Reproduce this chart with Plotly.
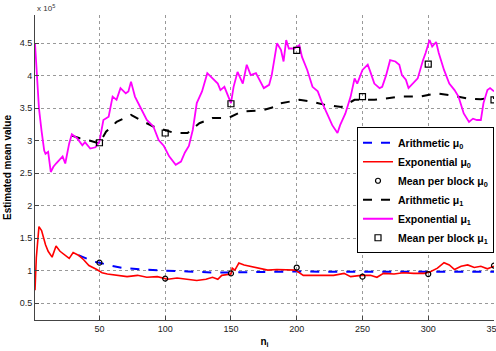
import plotly.graph_objects as go

# Running estimates of the two class means (values in units of 1e5)
exp_mu0_n = [1, 2, 4, 6, 9, 11, 14, 17, 20, 24, 27, 30, 34, 38, 42, 48, 52, 56, 63, 71,
             79, 86, 94, 102, 109, 117, 124, 131, 136, 140, 143, 150, 151, 153, 156, 160, 170, 178, 185, 193,
             199, 205, 213, 221, 228, 236, 241, 249, 256, 261, 266, 274, 281, 289, 297, 302, 307, 312, 316, 320,
             325, 330, 335, 340, 345, 350]
exp_mu0 = [0.70, 1.20, 1.68, 1.62, 1.40, 1.30, 1.21, 1.38, 1.30, 1.24, 1.19, 1.28, 1.24, 1.17, 1.08, 1.02, 0.97, 0.95, 0.93, 0.91,
           0.93, 0.90, 0.91, 0.87, 0.89, 0.87, 0.85, 0.87, 0.90, 0.87, 0.93, 0.95, 1.04, 1.01, 1.12, 1.09, 1.05, 1.01, 1.02, 1.01,
           1.01, 0.93, 0.93, 0.94, 0.93, 0.96, 0.91, 0.93, 0.93, 0.90, 0.96, 0.95, 0.97, 0.96, 0.96, 0.99, 1.04, 1.125, 1.09, 1.02,
           1.07, 1.09, 1.05, 1.07, 1.03, 1.07]

arith_mu0_n = [34, 38, 46, 50, 58, 69, 81, 99, 117, 135, 150, 175, 200, 226, 251, 277, 302, 327, 350]
arith_mu0 = [1.24, 1.21, 1.14, 1.125, 1.08, 1.04, 1.02, 1.0, 0.99, 0.975, 0.975, 0.985, 0.99, 0.985, 0.985,
             0.985, 0.985, 0.985, 0.985]

exp_mu1_n = [1, 2, 4, 6, 8, 9, 11, 13, 15, 17, 19, 22, 24, 27, 29, 33, 37, 39, 43, 47,
             50, 53, 57, 60, 63, 66, 70, 72, 74, 77, 81, 86, 91, 95, 99, 103, 108, 112, 115, 118,
             121, 124, 128, 132, 136, 140, 142, 145, 150, 152, 155, 159, 162, 165, 169, 171, 175, 179, 181, 185,
             188, 190, 192, 194, 198, 202, 204, 208, 212, 216, 219, 223, 227, 231, 233, 237, 241, 244, 246, 250,
             254, 256, 259, 263, 265, 268, 271, 275, 278, 280, 283, 285, 288, 292, 296, 298, 301, 303, 306, 308,
             312, 316, 320, 323, 327, 331, 334, 337, 340, 342, 345, 347, 350]
exp_mu1 = [4.5, 4.2, 3.5, 3.15, 2.85, 2.8, 2.83, 2.52, 2.6, 2.65, 2.7, 2.76, 2.65, 2.96, 3.1, 3.04, 2.93, 2.98, 2.88, 2.9,
           2.99, 3.32, 3.37, 3.68, 3.63, 3.81, 3.73, 3.76, 3.91, 3.68, 3.52, 3.32, 3.22, 3.01, 2.92, 2.76, 2.63, 2.68, 2.82, 2.92,
           3.17, 3.58, 3.76, 4.04, 3.96, 3.88, 3.78, 3.83, 3.58, 3.83, 4.06, 3.88, 4.17, 4.01, 4.04, 3.96, 3.81, 3.86, 4.01, 4.5,
           4.40, 4.22, 4.55, 4.42, 4.42, 4.47, 4.29, 4.09, 3.83, 3.76, 3.60, 3.42, 3.24, 3.12, 3.24, 3.42, 3.68, 3.96, 3.88, 4.09,
           4.17, 4.06, 3.88, 3.81, 3.83, 4.01, 4.24, 4.22, 4.17, 4.01, 3.94, 3.81, 3.88, 3.96, 4.24, 4.35, 4.55, 4.45, 4.52, 4.35,
           4.09, 3.88, 3.78, 3.68, 3.42, 3.29, 3.34, 3.32, 3.32, 3.58, 3.78, 3.81, 3.76]

arith_mu1_n = [29, 35, 43, 50, 55, 63, 74, 81, 91, 99, 107, 117, 126, 136, 148, 158, 174, 183, 186, 202,
               212, 222, 234, 244, 259, 279, 294, 306, 317, 330, 340, 350]
arith_mu1 = [3.08, 3.04, 3.0, 2.96, 3.14, 3.29, 3.40, 3.32, 3.22, 3.17, 3.12, 3.12, 3.27, 3.35, 3.35, 3.45, 3.47, 3.52, 3.57, 3.63,
             3.60, 3.55, 3.52, 3.63, 3.63, 3.68, 3.68, 3.73, 3.70, 3.65, 3.64, 3.66]

block_n = [50, 100, 150, 200, 250, 300, 350]
block_mu0 = [1.125, 0.88, 0.96, 1.05, 0.91, 0.95, 1.08]
block_mu1 = [2.97, 3.12, 3.57, 4.39, 3.68, 4.18, 3.63]

x_ticks = [50, 100, 150, 200, 250, 300, 350]
y_ticks = [0.5, 1, 1.5, 2, 2.5, 3, 3.5, 4, 4.5]

FONT = "Arial, Liberation Sans, Helvetica, sans-serif"

fig = go.Figure()
fig.add_trace(go.Scatter(x=arith_mu0_n, y=arith_mu0, mode="lines", name="Arithmetic μ<sub>0</sub>",
                         line=dict(color="#0000ff", width=2, dash="dash")))
fig.add_trace(go.Scatter(x=exp_mu0_n, y=exp_mu0, mode="lines", name="Exponential μ<sub>0</sub>",
                         line=dict(color="#ff0000", width=1.6)))
fig.add_trace(go.Scatter(x=block_n, y=block_mu0, mode="markers", name="Mean per block μ<sub>0</sub>",
                         marker=dict(symbol="circle-open", size=5, color="black", line=dict(width=1.2))))
fig.add_trace(go.Scatter(x=arith_mu1_n, y=arith_mu1, mode="lines", name="Arithmetic μ<sub>1</sub>",
                         line=dict(color="black", width=2, dash="dash")))
fig.add_trace(go.Scatter(x=exp_mu1_n, y=exp_mu1, mode="lines", name="Exponential μ<sub>1</sub>",
                         line=dict(color="#ff00ff", width=1.8)))
fig.add_trace(go.Scatter(x=block_n, y=block_mu1, mode="markers", name="Mean per block μ<sub>1</sub>",
                         marker=dict(symbol="square-open", size=6, color="black", line=dict(width=1.2))))

fig.update_layout(
    width=496, height=351,
    margin=dict(l=35, r=2, t=15, b=31),
    paper_bgcolor="white", plot_bgcolor="white",
    font=dict(family=FONT, size=9, color="#222"),
    showlegend=True,
    legend=dict(x=1, xanchor="right", y=0.632, yanchor="top",
                bgcolor="white", bordercolor="black", borderwidth=1,
                font=dict(family=FONT, size=10.5, color="black", weight="bold"),
                tracegroupgap=0, itemwidth=30),
    xaxis=dict(range=[1, 350], tickvals=x_ticks, ticktext=[str(v) for v in x_ticks],
               ticklabeloverflow="allow", automargin=False,
               showgrid=True, gridcolor="#999", griddash="dot", gridwidth=1,
               showline=True, linecolor="#444", linewidth=1, mirror=False,
               ticks="inside", ticklen=4, tickcolor="#444", zeroline=False,
               title=dict(text="<b>n<sub>i</sub></b>", font=dict(size=10, color="black"), standoff=5)),
    yaxis=dict(range=[0.243, 4.935], tickvals=y_ticks, ticktext=[f"{v:g}" for v in y_ticks],
               automargin=False,
               showgrid=True, gridcolor="#999", griddash="dot", gridwidth=1,
               showline=True, linecolor="#444", linewidth=1, mirror=False,
               ticks="inside", ticklen=4, tickcolor="#444", zeroline=False,
               title=dict(text="<b>Estimated mean value</b>", font=dict(size=10, color="black"), standoff=6)),
)

fig.add_annotation(x=0, y=1, xref="paper", yref="paper", xanchor="left", yanchor="bottom",
                   text="x 10<sup>5</sup>", showarrow=False, font=dict(size=8, color="#333"), yshift=0)

fig.write_html("out.html")
